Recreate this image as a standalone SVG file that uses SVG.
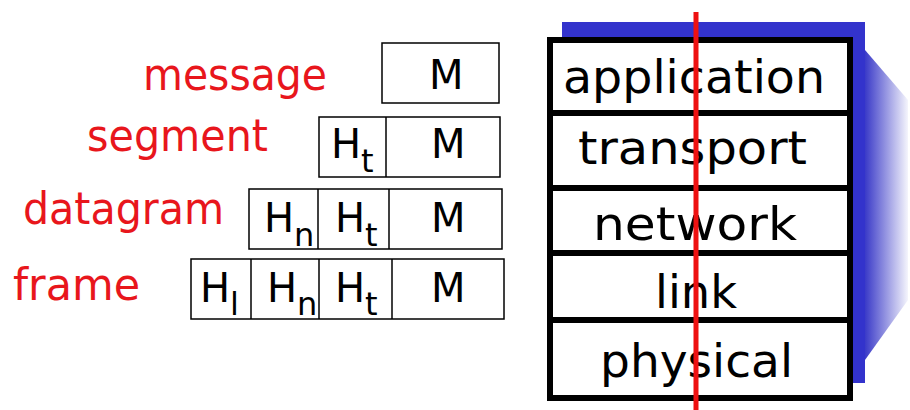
<svg xmlns="http://www.w3.org/2000/svg" width="910" height="410" viewBox="0 0 910 410">
<style>
.lbl{font-family:"DejaVu Sans","Liberation Sans",sans-serif;font-size:44px;fill:#e8161c}
.cell{fill:#fff;stroke:#000;stroke-width:1.5}
.g{font-family:"DejaVu Sans","Liberation Sans",sans-serif;font-size:40px;fill:#000}
.sub{font-size:32px}
.layer{font-family:"DejaVu Sans","Liberation Sans",sans-serif;font-size:46px;fill:#000}
.div{stroke:#000;stroke-width:6}
</style>
<defs>
<linearGradient id="wedge" x1="0" y1="0" x2="1" y2="0">
<stop offset="0" stop-color="#3a3ac8"/>
<stop offset="1" stop-color="#3a3ac8" stop-opacity="0.05"/>
</linearGradient>
</defs>
<rect width="910" height="410" fill="#fff"/>

<g id="message">
<text class="lbl" x="143" y="90" textLength="184" lengthAdjust="spacingAndGlyphs">message</text>
<rect class="cell" x="382" y="43" width="117" height="60"/>
<text class="g" x="429" y="89">M</text>
</g>

<g id="segment">
<text class="lbl" x="87" y="151" textLength="181" lengthAdjust="spacingAndGlyphs">segment</text>
<rect class="cell" x="319" y="117" width="181" height="60"/>
<line x1="386" y1="117" x2="386" y2="177" stroke="#000" stroke-width="1.5"/>
<text class="g" x="331" y="158">H<tspan class="sub" dy="14">t</tspan></text>
<text class="g" x="431" y="158">M</text>
</g>

<g id="datagram">
<text class="lbl" x="23" y="224" textLength="201" lengthAdjust="spacingAndGlyphs">datagram</text>
<rect class="cell" x="249" y="189" width="253" height="60"/>
<line x1="318" y1="189" x2="318" y2="249" stroke="#000" stroke-width="1.5"/>
<line x1="389" y1="189" x2="389" y2="249" stroke="#000" stroke-width="1.5"/>
<text class="g" x="264" y="232">H<tspan class="sub" dy="14">n</tspan></text>
<text class="g" x="335" y="232">H<tspan class="sub" dy="14">t</tspan></text>
<text class="g" x="431" y="232">M</text>
</g>

<g id="frame">
<text class="lbl" x="13" y="300" textLength="127" lengthAdjust="spacingAndGlyphs">frame</text>
<rect class="cell" x="191" y="259" width="313" height="60"/>
<line x1="251" y1="259" x2="251" y2="319" stroke="#000" stroke-width="1.5"/>
<line x1="319" y1="259" x2="319" y2="319" stroke="#000" stroke-width="1.5"/>
<line x1="392" y1="259" x2="392" y2="319" stroke="#000" stroke-width="1.5"/>
<text class="g" x="200" y="302">H<tspan class="sub" dy="13">l</tspan></text>
<text class="g" x="267" y="302">H<tspan class="sub" dy="13">n</tspan></text>
<text class="g" x="335" y="302">H<tspan class="sub" dy="13">t</tspan></text>
<text class="g" x="431" y="302">M</text>
</g>

<g id="stack">
<polygon points="865,50 908,100 908,300 865,360" fill="url(#wedge)"/>
<rect x="562" y="22" width="303" height="361" fill="#3333cc"/>
<rect x="550" y="40" width="300" height="358" fill="#fff" stroke="#000" stroke-width="6"/>
<line class="div" x1="550" y1="113" x2="850" y2="113"/>
<line class="div" x1="550" y1="188" x2="850" y2="188"/>
<line class="div" x1="550" y1="253" x2="850" y2="253"/>
<line class="div" x1="550" y1="320" x2="850" y2="320"/>
</g>
<g id="application"><text class="layer" x="563" y="93" textLength="262" lengthAdjust="spacingAndGlyphs">application</text></g>
<g id="transport"><text class="layer" x="578" y="164" textLength="229" lengthAdjust="spacingAndGlyphs">transport</text></g>
<g id="network"><text class="layer" x="593" y="240" textLength="204" lengthAdjust="spacingAndGlyphs">network</text></g>
<g id="link"><text class="layer" x="655" y="308" textLength="82" lengthAdjust="spacingAndGlyphs">link</text></g>
<g id="physical"><text class="layer" x="600" y="377" textLength="193" lengthAdjust="spacingAndGlyphs">physical</text></g>

<g id="connectors">
<line x1="696" y1="12" x2="696" y2="410" stroke="#ee1111" stroke-width="5"/>
</g>
</svg>
